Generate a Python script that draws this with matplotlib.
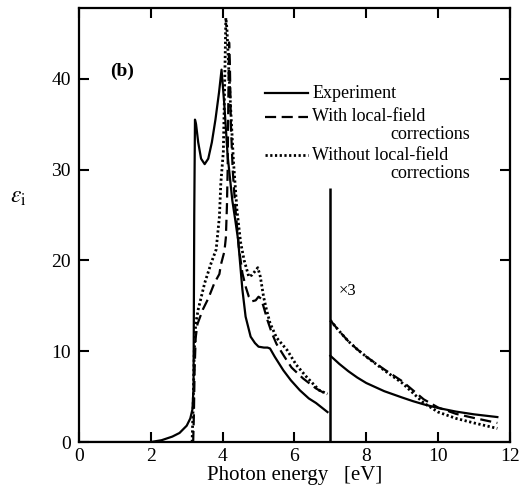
import numpy as np
import matplotlib
matplotlib.use("Agg")
import matplotlib.pyplot as plt

# --- data ---------------------------------------------------------------
# experiment, 0 - 7 eV
exp_e = [0.0, 2.0, 2.3, 2.6, 2.8, 3.0, 3.1, 3.16, 3.19, 3.21, 3.23, 3.26,
         3.32, 3.4, 3.5, 3.6, 3.7, 3.8, 3.9, 3.97, 4.05, 4.14, 4.27, 4.35,
         4.43, 4.55, 4.64, 4.78, 4.9, 5.0, 5.15, 5.25, 5.32, 5.45, 5.69,
         5.9, 6.15, 6.4, 6.6, 6.92]
exp_eps = [0.0, 0.0, 0.2, 0.6, 1.0, 1.8, 2.6, 3.6, 6.0, 25.0, 35.5, 35.0,
           33.0, 31.2, 30.6, 31.2, 33.0, 35.5, 38.5, 41.0, 37.0, 31.5, 26.6,
           24.5, 22.3, 16.8, 13.8, 11.6, 10.9, 10.5, 10.4, 10.4, 10.3, 9.4,
           7.9, 6.8, 5.7, 4.8, 4.3, 3.3]

# with local-field corrections, 0 - 7 eV
lf_e = [3.18, 3.2, 3.22, 3.25, 3.3, 3.45, 3.6, 3.77, 3.91, 3.95, 4.05, 4.09,
        4.12, 4.14, 4.16, 4.18, 4.2, 4.23, 4.28, 4.35, 4.45, 4.55, 4.65,
        4.73, 4.82, 4.92, 5.0, 5.07, 5.14, 5.25, 5.37, 5.5, 5.72, 5.92,
        6.24, 6.6, 6.92]
lf_eps = [0.0, 3.0, 8.0, 11.5, 13.0, 14.6, 15.8, 17.5, 18.5, 19.5, 21.0,
          22.5, 26.0, 30.0, 38.0, 44.0, 42.0, 35.0, 30.0, 26.0, 21.5, 18.6,
          17.0, 16.0, 15.5, 15.6, 16.0, 15.8, 14.9, 13.4, 12.0, 10.8, 9.4,
          8.2, 7.0, 5.9, 5.2]

# without local-field corrections, 0 - 7 eV
nolf_e = [3.15, 3.18, 3.21, 3.25, 3.32, 3.5, 3.68, 3.82, 3.91, 3.95, 4.02,
          4.06, 4.09, 4.12, 4.16, 4.22, 4.3, 4.4, 4.5, 4.6, 4.73, 4.82, 4.9,
          4.98, 5.05, 5.14, 5.22, 5.32, 5.5, 5.8, 6.05, 6.33, 6.69, 6.92]
nolf_eps = [0.0, 4.0, 10.0, 13.0, 14.6, 17.5, 19.7, 21.2, 24.8, 28.5, 32.0,
            40.0, 46.7, 45.5, 42.0, 37.0, 31.0, 25.5, 22.0, 20.0, 18.2, 18.4,
            18.8, 19.2, 18.2, 16.0, 14.6, 13.1, 11.5, 10.1, 8.5, 7.2, 5.7,
            5.3]

# 7 - 12 eV part (plotted x3)
hi_e = [7.0, 7.25, 7.5, 7.75, 8.0, 8.5, 9.0, 9.3, 9.6, 10.0, 10.5, 11.0,
        11.65]
hi_exp = [9.5, 8.6, 7.8, 7.1, 6.5, 5.6, 4.9, 4.5, 4.15, 3.75, 3.35, 3.05,
          2.75]
hi_lf = [13.4, 12.2, 11.1, 10.2, 9.4, 8.0, 6.7, 5.7, 4.7, 3.8, 3.1, 2.65,
         2.1]
hi_nolf = [13.4, 12.2, 11.1, 10.2, 9.4, 7.9, 6.5, 5.4, 4.3, 3.3, 2.6, 2.1,
           1.5]

split_energy = 7.0
split_top = 28.0

# --- style ---------------------------------------------------------------
plt.rcParams['font.family'] = ['Liberation Serif', 'DejaVu Serif']
plt.rcParams['mathtext.fontset'] = 'stix'

fig = plt.figure(figsize=(5.23, 4.95), dpi=100)
ax = fig.add_axes([0.151, 0.107, 0.824, 0.877])

solid = dict(color='black', lw=1.6, ls='-')
dashed = dict(color='black', lw=1.6, ls=(0, (5, 2.5)))
dotted = dict(color='black', lw=2.0, ls=(0, (0.8, 0.9)))

ax.plot(exp_e, exp_eps, **solid)
ax.plot(lf_e, lf_eps, **dashed)
ax.plot(nolf_e, nolf_eps, **dotted)

ax.plot(hi_e, hi_exp, **solid)
ax.plot(hi_e, hi_lf, **dashed)
ax.plot(hi_e, hi_nolf, **dotted)

ax.vlines(split_energy, 0, split_top, color='black', lw=1.8)
ax.text(7.22, 16.6, '×3', fontsize=12, va='center', ha='left')

ax.set_xlim(0, 12)
ax.set_ylim(0, 47.8)
ax.set_xticks([0, 2, 4, 6, 8, 10, 12])
ax.set_yticks([0, 10, 20, 30, 40])

ax.tick_params(direction='in', length=7, width=1.5, labelsize=14,
               top=True, right=True, pad=4)
ax.tick_params(axis='y', pad=6)
for s in ax.spines.values():
    s.set_linewidth(1.6)

ax.set_xlabel('Photon energy   [eV]', fontsize=15, labelpad=1)
ax.set_ylabel(r'$\varepsilon_{\rm i}$', fontsize=17, rotation=0)
ax.yaxis.set_label_coords(-0.14, 0.54)

ax.text(0.072, 0.853, '(b)', transform=ax.transAxes, fontsize=14,
        fontweight='bold', va='center', ha='left')

# hand-made legend
lx0, lx1, tx, cx = 0.432, 0.531, 0.541, 0.722
ax.plot([lx0, lx1], [0.804, 0.804], transform=ax.transAxes, **solid)
ax.text(tx, 0.804, 'Experiment', transform=ax.transAxes, fontsize=13,
        va='center')
ax.plot([lx0, lx1], [0.749, 0.749], transform=ax.transAxes, **dashed)
ax.text(tx, 0.749, 'With local-field', transform=ax.transAxes, fontsize=13,
        va='center')
ax.text(cx, 0.708, 'corrections', transform=ax.transAxes, fontsize=13,
        va='center')
ax.plot([lx0, lx1], [0.661, 0.661], transform=ax.transAxes, **dotted)
ax.text(tx, 0.661, 'Without local-field', transform=ax.transAxes,
        fontsize=13, va='center')
ax.text(cx, 0.618, 'corrections', transform=ax.transAxes, fontsize=13,
        va='center')

fig.savefig('out.png', dpi=100)
